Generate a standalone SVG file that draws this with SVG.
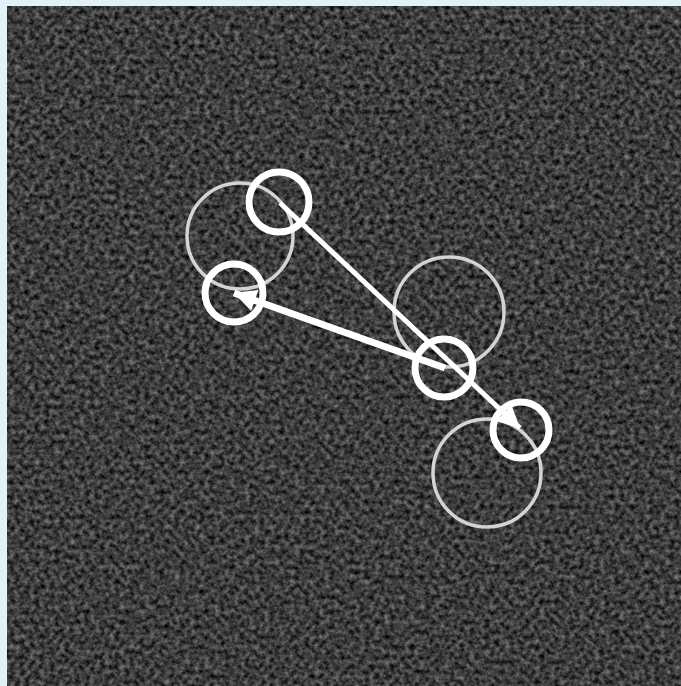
<svg xmlns="http://www.w3.org/2000/svg" width="681" height="686" viewBox="0 0 681 686">
<defs>
<filter id="noise" x="0" y="0" width="100%" height="100%" color-interpolation-filters="sRGB">
<feTurbulence type="fractalNoise" baseFrequency="0.2" numOctaves="3" seed="7" result="t"/>
<feColorMatrix in="t" type="matrix" values="0.65 0 0 0 -0.09  0.65 0 0 0 -0.085  0.65 0 0 0 -0.09  0 0 0 0 1"/>
</filter>
<marker id="ah" viewBox="0 0 10 10" refX="10" refY="5" markerUnits="userSpaceOnUse" markerWidth="26" markerHeight="22" orient="auto">
<path d="M0,0 L10,5 L0,10 Z" fill="#ffffff"/>
</marker>
<style>
.ghost{fill:none;stroke:#d4d4d4;stroke-width:3.5}
.ring{fill:none;stroke:#ffffff;stroke-width:7}
.link{stroke:#ffffff;fill:none}
</style>
</defs>
<rect x="0" y="0" width="681" height="686" fill="#e1f1f7"/>
<rect x="7" y="6" width="674" height="680" fill="#3c3c3c"/>
<rect x="7" y="6" width="674" height="680" filter="url(#noise)"/>
<g id="ghost1"><circle class="ghost" cx="240" cy="236" r="53"/></g>
<g id="ghost2"><circle class="ghost" cx="449" cy="312" r="55"/></g>
<g id="ghost3"><circle class="ghost" cx="487" cy="473" r="54"/></g>
<g id="connectors">
<line class="link" x1="280" y1="203" x2="520" y2="428" stroke-width="5" marker-end="url(#ah)"/>
<line class="link" x1="445" y1="368" x2="234" y2="293" stroke-width="7" marker-end="url(#ah)"/>
</g>
<g id="node1"><circle class="ring" cx="279" cy="202" r="30"/></g>
<g id="node2"><circle class="ring" cx="234" cy="293" r="29"/></g>
<g id="node3"><circle class="ring" cx="444" cy="368" r="29"/></g>
<g id="node4"><circle class="ring" cx="521" cy="430" r="28"/></g>
</svg>
